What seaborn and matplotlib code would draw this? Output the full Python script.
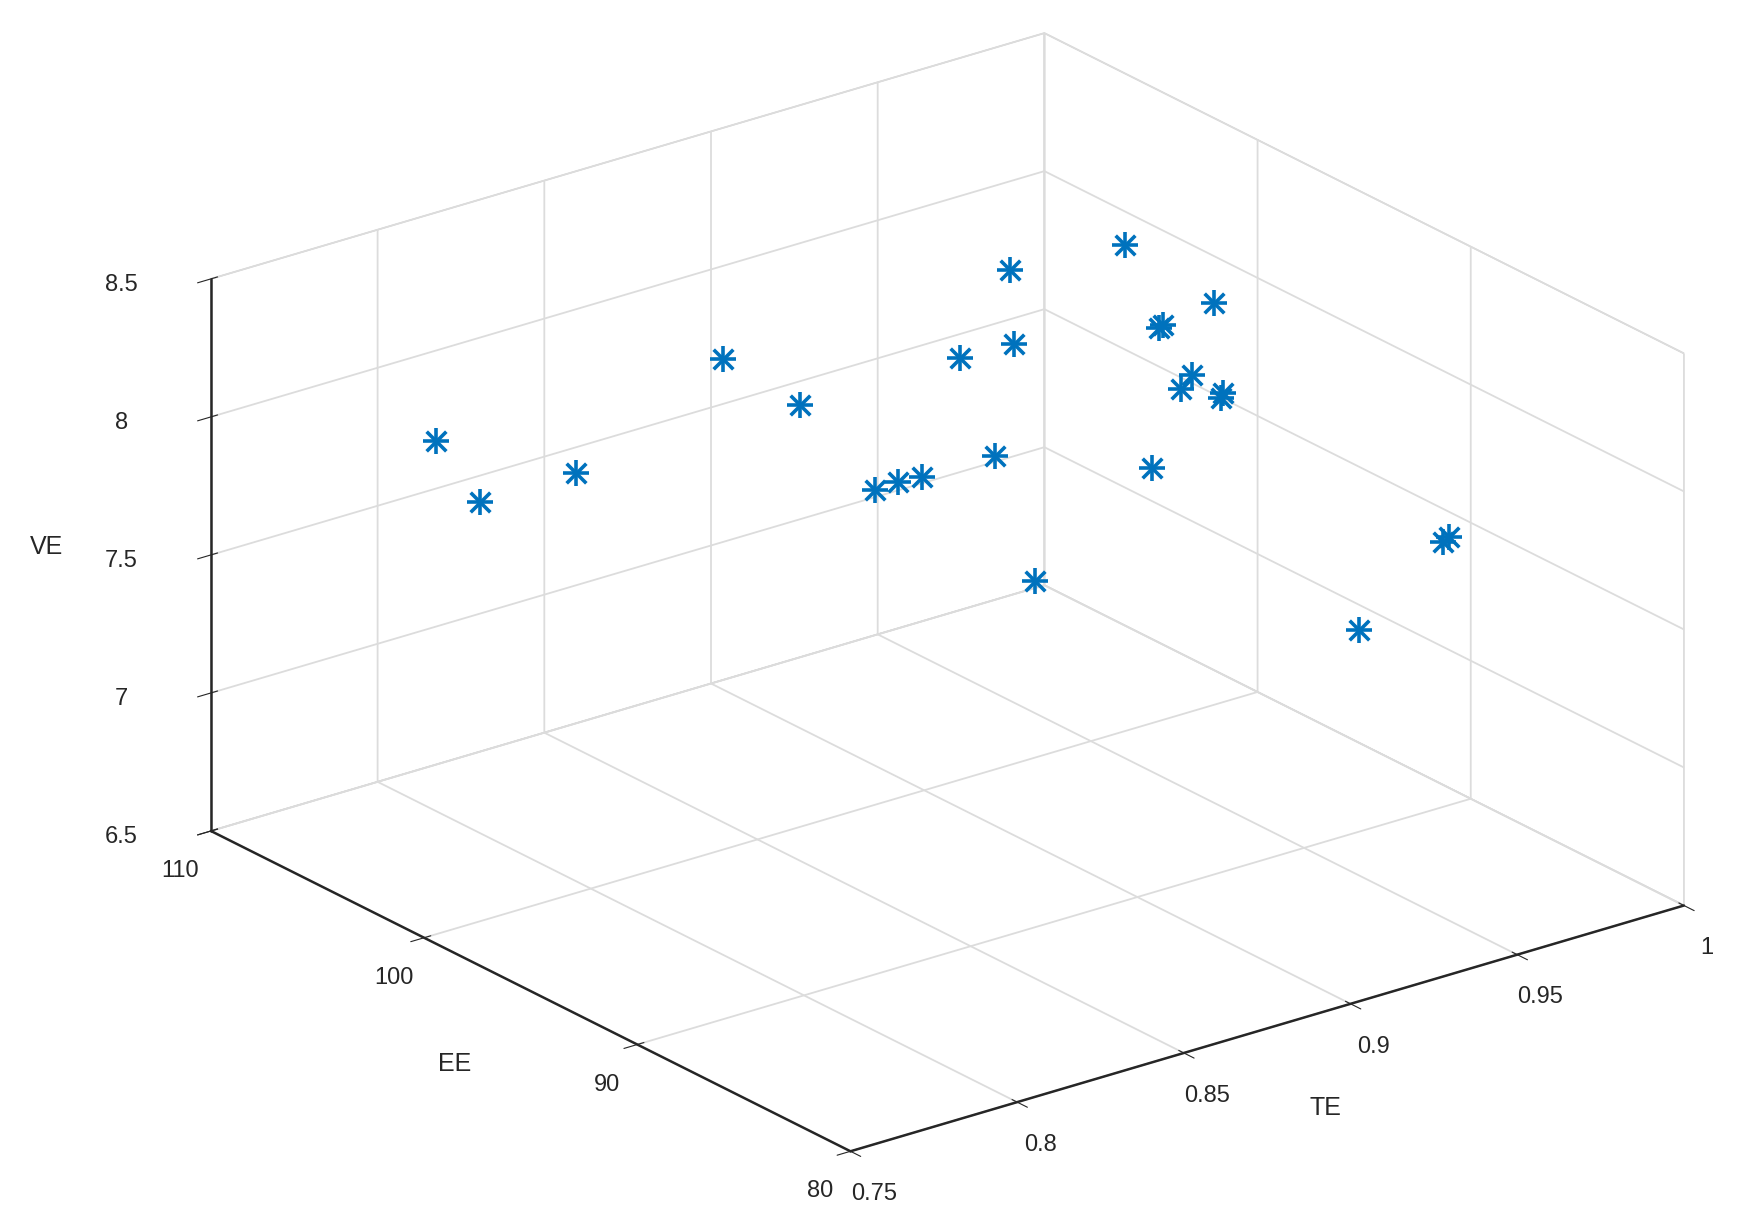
import numpy as np
import seaborn as sns
import matplotlib
matplotlib.use("Agg")
from matplotlib import pyplot as plt

# values
te = [0.8125, 0.80, 0.825, 0.85, 0.85, 0.875, 0.875, 0.875, 0.90, 0.90, 0.925, 0.90, 0.875,
      0.95, 0.925, 0.95, 0.95, 0.9375, 0.9375, 0.9625, 0.95, 0.95, 0.95, 0.975, 0.975]
ee = [109.2, 105.2, 104.6, 101.6, 98.0, 98.4, 97.3, 96.2, 98.3, 96.7, 99.9, 95.8, 90.9,
      98.4, 93.2, 96.8, 96.6, 93.8, 93.3, 96.2, 93.9, 93.8, 87.4, 87.4, 87.1]
ve = [7.72, 7.70, 7.74, 8.18, 8.15, 7.74, 7.81, 7.87, 8.13, 7.84, 8.30, 8.28, 7.70,
      8.36, 7.84, 8.12, 8.14, 8.06, 8.13, 8.19, 7.98, 8.00, 7.39, 7.62, 7.65]

sns.set_style("white")
plt.rcParams['font.family'] = ['Liberation Sans', 'DejaVu Sans']

fig = plt.figure(figsize=(17.54, 12.2), dpi=100)
ax = fig.add_subplot(111, projection='3d', proj_type='ortho')
ax.set_position([0.01, -0.04, 1.04, 1.08])
ax.view_init(elev=22.6, azim=-127.5)
ax.set_box_aspect((1.3, 1.3, 0.74), zoom=1.18)

# MATLAB-style asterisk = plus + cross
ax.scatter(te, ee, ve, marker='+', s=330, color='#0072BD', linewidths=2.6, depthshade=False)
ax.scatter(te, ee, ve, marker='x', s=200, color='#0072BD', linewidths=2.6, depthshade=False)

ax.set_xlim(0.75, 1)
ax.set_ylim(80, 110)
ax.set_zlim(6.5, 8.5)
ax.set_xticks([0.75, 0.8, 0.85, 0.9, 0.95, 1])
ax.set_xticklabels(['0.75', '0.8', '0.85', '0.9', '0.95', '1'])
ax.set_yticks([80, 90, 100, 110])
ax.set_zticks([6.5, 7, 7.5, 8, 8.5])
ax.set_zticklabels(['6.5', '7', '7.5', '8', '8.5'])
ax.set_xlabel('TE', fontsize=18, labelpad=24)
ax.set_ylabel('EE', fontsize=18, labelpad=24)
ax.set_zlabel('VE', fontsize=18, labelpad=34)
ax.tick_params(labelsize=17, pad=10)
ax.tick_params(axis='z', pad=22)

for axis in (ax.xaxis, ax.yaxis, ax.zaxis):
    axis.set_pane_color((1, 1, 1, 1))
    axis.pane.set_edgecolor('#c8c8c8')
    axis._axinfo['grid']['color'] = '#dcdcdc'
    axis._axinfo['grid']['linewidth'] = 1.3
    axis.line.set_color('#262626')
    axis.line.set_linewidth(1.8)

fig.savefig('out.png', dpi=100)
